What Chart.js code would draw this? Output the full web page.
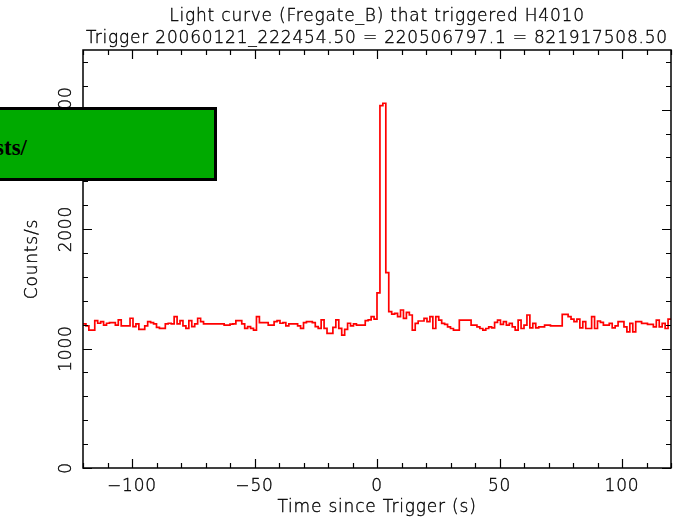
<!DOCTYPE html>
<html>
<head>
<meta charset="UTF-8" />
<script src="https://cdn.jsdelivr.net/npm/chart.js@4"></script>
<style>
  body, html {
    margin: 0;
    padding: 0;
    background: #ffffff;
    overflow: hidden;
  }
  #wrap {
    position: relative;
    width: 674px;
    height: 518px;
  }
  #note {
    position: absolute;
    left: -4px;
    top: 107px;
    width: 215px;
    height: 68px;
    background: #00aa00;
    border: 3px solid #000;
  }
  #note span {
    position: absolute;
    right: 187px;
    top: 26px;
    font: bold 23px "Liberation Serif", serif;
    line-height: 23px;
    white-space: nowrap;
    color: #000;
  }
</style>
</head>
<body>
<div id="wrap">
  <canvas id="lc" width="674" height="518"></canvas>
  <div id="note"><span>sts/</span></div>
</div>
<script>
  // Fregate_B light curve, 1.2 s bins from -120 s
  const T_START = -120;
  const BIN = 1.2;
  const counts = [
    1207, 1190, 1155, 1155, 1234, 1212, 1226, 1197, 1212, 1218,
    1218, 1197, 1240, 1190, 1190, 1190, 1254, 1183, 1207, 1160,
    1160, 1190, 1226, 1218, 1207, 1177, 1169, 1169, 1207, 1212,
    1207, 1268, 1207, 1234, 1190, 1169, 1234, 1183, 1207, 1254,
    1226, 1207, 1207, 1207, 1207, 1207, 1207, 1207, 1197, 1197,
    1204, 1207, 1234, 1234, 1207, 1169, 1183, 1169, 1155, 1268,
    1218, 1218, 1218, 1197, 1197, 1226, 1234, 1212, 1218, 1190,
    1207, 1207, 1207, 1190, 1169, 1218, 1226, 1226, 1218, 1183,
    1169, 1240, 1169, 1127, 1127, 1177, 1240, 1169, 1113, 1160,
    1212, 1190, 1207, 1197, 1197, 1197, 1234, 1240, 1268, 1246,
    1466, 3034, 3054, 1636, 1309, 1289, 1295, 1267, 1323, 1253,
    1303, 1281, 1154, 1211, 1231, 1231, 1253, 1225, 1267, 1168,
    1267, 1239, 1211, 1202, 1182, 1168, 1154, 1154, 1239, 1239,
    1239, 1239, 1196, 1196, 1182, 1168, 1154, 1168, 1182, 1173,
    1219, 1239, 1202, 1225, 1196, 1211, 1182, 1154, 1239, 1168,
    1196, 1281, 1173, 1211, 1173, 1182, 1182, 1196, 1196, 1190,
    1190, 1190, 1190, 1286, 1286, 1267, 1247, 1225, 1247, 1173,
    1225, 1168, 1168, 1267, 1168, 1231, 1219, 1196, 1196, 1211,
    1173, 1190, 1225, 1225, 1182, 1140, 1211, 1140, 1225, 1225,
    1211, 1211, 1202, 1202, 1182, 1239, 1182, 1211, 1168, 1247
  ];

  const xTicks = [-100, -50, 0, 50, 100];
  const yTicks = [0, 1000, 2000, 3000];
  const titleLines = [
    'Light curve (Fregate_B) that triggered H4010',
    'Trigger 20060121_222454.50 = 220506797.1 = 821917508.50'
  ];
  const xTitle = 'Time since Trigger (s)';
  const yTitle = 'Counts/s';

  const points = counts.map((c, i) => ({ x: T_START + i * BIN, y: c }));
  points.push({ x: T_START + counts.length * BIN, y: counts[counts.length - 1] });

  const fmt = v => (v < 0 ? '\u2212' + Math.abs(v) : String(v));
  const FONT = '300 17px "DejaVu Sans"';

  // thin vector-ish text: light face plus a hairline stroke
  function label(ctx, s, x, y) {
    ctx.fillText(s, x, y);
    ctx.strokeText(s, x, y);
  }

  // PGPLOT style box: inward ticks on all four sides, rotated y labels
  const frame = {
    id: 'frame',
    afterDatasetsDraw(chart) {
      const { ctx, chartArea: a, scales: { x, y } } = chart;
      ctx.save();
      ctx.strokeStyle = '#000';
      ctx.lineWidth = 1.5;
      ctx.strokeRect(a.left, a.top, a.right - a.left, a.bottom - a.top);

      ctx.lineWidth = 1.2;
      ctx.beginPath();
      for (let v = -120; v <= 120; v += 10) {
        const px = Math.round(x.getPixelForValue(v)) + 0.5;
        const len = v % 50 === 0 ? 9 : 5;
        ctx.moveTo(px, a.bottom); ctx.lineTo(px, a.bottom - len);
        ctx.moveTo(px, a.top); ctx.lineTo(px, a.top + len);
      }
      for (let v = 0; v <= 3500; v += 200) {
        const py = Math.round(y.getPixelForValue(v)) + 0.5;
        const len = v % 1000 === 0 ? 9 : 5;
        ctx.moveTo(a.left, py); ctx.lineTo(a.left + len, py);
        ctx.moveTo(a.right, py); ctx.lineTo(a.right - len, py);
      }
      ctx.stroke();

      ctx.fillStyle = '#000';
      ctx.lineWidth = 0.35;
      ctx.font = FONT;
      ctx.letterSpacing = '0.8px';
      ctx.textAlign = 'center';
      ctx.textBaseline = 'alphabetic';
      const cx = (a.left + a.right) / 2;
      label(ctx, titleLines[0], cx, 21);
      label(ctx, titleLines[1], cx, 43);

      xTicks.forEach(v => label(ctx, fmt(v), x.getPixelForValue(v), 491));
      label(ctx, xTitle, cx, 512);

      yTicks.forEach(v => {
        ctx.save();
        ctx.translate(70.5, y.getPixelForValue(v));
        ctx.rotate(-Math.PI / 2);
        label(ctx, fmt(v), 0, 0);
        ctx.restore();
      });
      ctx.save();
      ctx.translate(36.5, (a.top + a.bottom) / 2);
      ctx.rotate(-Math.PI / 2);
      label(ctx, yTitle, 0, 0);
      ctx.restore();
      ctx.restore();
    }
  };

  new Chart(document.getElementById('lc').getContext('2d'), {
    type: 'line',
    data: {
      datasets: [{
        data: points,
        borderColor: '#ff0000',
        borderWidth: 1.7,
        stepped: true,
        pointRadius: 0,
        fill: false
      }]
    },
    options: {
      responsive: false,
      animation: false,
      layout: { padding: { left: 83, right: 3, top: 50, bottom: 50 } },
      scales: {
        x: { type: 'linear', min: -120, max: 120, display: false },
        y: { min: 0, max: 3500, display: false }
      },
      plugins: { legend: { display: false }, tooltip: { enabled: false } }
    },
    plugins: [frame]
  });
</script>
</body>
</html>
